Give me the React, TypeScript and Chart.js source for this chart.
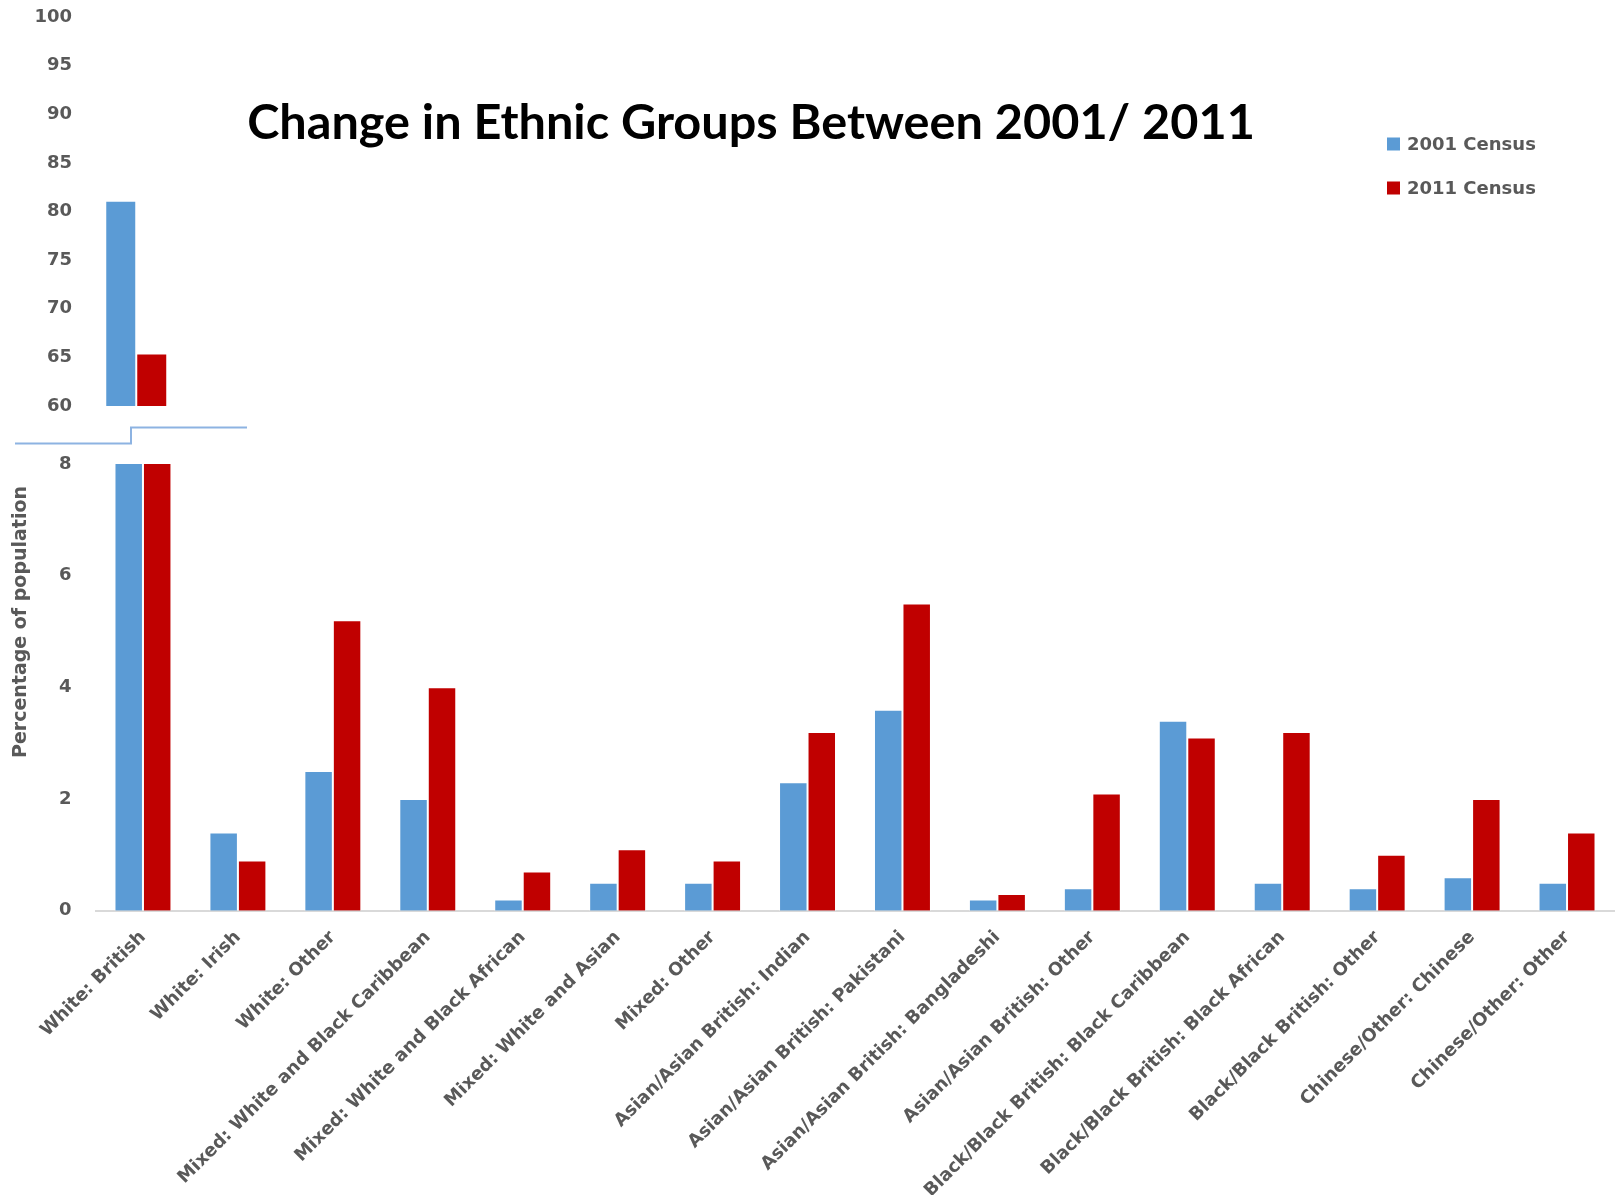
import React, { useEffect, useRef } from 'react';
import { Chart, registerables } from 'chart.js';
Chart.register(...registerables);

const categories = [
  'White: British',
  'White: Irish',
  'White: Other',
  'Mixed: White and Black Caribbean',
  'Mixed: White and Black African',
  'Mixed: White and Asian',
  'Mixed: Other',
  'Asian/Asian British: Indian',
  'Asian/Asian British: Pakistani',
  'Asian/Asian British: Bangladeshi',
  'Asian/Asian British: Other',
  'Black/Black British: Black Caribbean',
  'Black/Black British: Black African',
  'Black/Black British: Other',
  'Chinese/Other: Chinese',
  'Chinese/Other: Other',
];
const census2001 = [81.1, 1.4, 2.5, 2.0, 0.2, 0.5, 0.5, 2.3, 3.6, 0.2, 0.4, 3.4, 0.5, 0.4, 0.6, 0.5];
const census2011 = [65.4, 0.9, 5.2, 4.0, 0.7, 1.1, 0.9, 3.2, 5.5, 0.3, 2.1, 3.1, 3.2, 1.0, 2.0, 1.4];
const seriesLabels = ['2001 Census', '2011 Census'];
const seriesColors = ['#5B9BD5', '#C00000'];
const lowerAxis = { min: 0, max: 8, step: 2 };
const upperAxis = { min: 60, max: 100, step: 5 };
const chartTitle = 'Change in Ethnic Groups Between 2001/ 2011';
const yAxisTitle = 'Percentage of population';

const W = 1618;
const H = 1195;
const GRAY = '#595959';
const FONT = 'DejaVu Sans';

const tickFont = { family: FONT, size: 18, weight: 'bold' as const };

// upper panel geometry (page pixels)
const UP_TOP = 16.7;
const UP_BOTTOM = 405.7;
const UP_PAD = 50;
const UW = 260;
const UH = UP_PAD * 2 + (UP_BOTTOM - UP_TOP);

const decorPlugin = {
  id: 'decor',
  afterDraw(chart: any) {
    const ctx = chart.ctx;
    const area = chart.chartArea;
    ctx.save();
    // title
    ctx.fillStyle = '#000';
    ctx.textAlign = 'center';
    ctx.textBaseline = 'middle';
    ctx.font = `bold 100px Lato`;
    const w100 = ctx.measureText(chartTitle).width;
    const size = (100 * 1008) / w100;
    ctx.font = `bold ${size}px Lato`;
    ctx.fillText(chartTitle, 751, 123);

    // legend
    ctx.font = `bold 18px ${FONT}`;
    ctx.textAlign = 'left';
    chart.data.datasets.forEach((ds: any, i: number) => {
      const cy = 144 + i * 44;
      ctx.fillStyle = ds.backgroundColor;
      ctx.fillRect(1387, cy - 6.5, 13, 13);
      ctx.fillStyle = GRAY;
      ctx.fillText(ds.label, 1407, cy + 1);
    });

    // y axis title
    ctx.save();
    ctx.translate(21, 622);
    ctx.rotate(-Math.PI / 2);
    ctx.textAlign = 'center';
    ctx.font = `bold 19px ${FONT}`;
    ctx.fillStyle = GRAY;
    ctx.fillText(yAxisTitle, 0, 0);
    ctx.restore();

    // axis break marker
    const mid = area.top - 28.5;
    const bx = area.left + 35.5;
    ctx.strokeStyle = '#8DB3E2';
    ctx.lineWidth = 2;
    ctx.beginPath();
    ctx.moveTo(15, mid + 8);
    ctx.lineTo(bx, mid + 8);
    ctx.lineTo(bx, mid - 8);
    ctx.lineTo(247, mid - 8);
    ctx.stroke();
    ctx.restore();
  },
};

export default function App() {
  const lowerRef = useRef<HTMLCanvasElement>(null);
  const upperRef = useRef<HTMLCanvasElement>(null);

  useEffect(() => {
    document.body.style.margin = '0';
    const lower = new Chart(lowerRef.current!, {
      type: 'bar',
      data: {
        labels: categories,
        datasets: [census2001, census2011].map((d, i) => ({
          label: seriesLabels[i],
          data: d,
          backgroundColor: seriesColors[i],
          borderColor: 'rgba(255,255,255,0.7)',
          borderWidth: 1,
          categoryPercentage: 0.6,
          barPercentage: 1,
          clip: 0,
        })),
      },
      options: {
        animation: false,
        responsive: false,
        devicePixelRatio: 1,
        layout: { padding: { top: 464, right: 3.5, left: 0, bottom: 0 } },
        plugins: { legend: { display: false }, title: { display: false }, tooltip: { enabled: false } },
        scales: {
          x: {
            grid: { display: false, drawTicks: false },
            border: { display: true, color: '#D9D9D9', width: 2 },
            ticks: {
              autoSkip: false,
              maxRotation: 45,
              minRotation: 45,
              padding: 16,
              color: GRAY,
              font: tickFont,
            },
            afterFit: (s: any) => {
              s.height = H - 910.7;
            },
          },
          y: {
            min: lowerAxis.min,
            max: lowerAxis.max,
            grid: { display: false, drawTicks: false },
            border: { display: false },
            ticks: { stepSize: lowerAxis.step, padding: 24, color: GRAY, font: tickFont },
            afterFit: (s: any) => {
              s.width = 95.5;
            },
          },
        },
      },
      plugins: [decorPlugin],
    } as any);

    const upper = new Chart(upperRef.current!, {
      type: 'bar',
      data: {
        labels: [categories[0]],
        datasets: [census2001, census2011].map((d, i) => ({
          label: seriesLabels[i],
          data: [d[0]],
          backgroundColor: seriesColors[i],
          borderColor: 'rgba(255,255,255,0.7)',
          borderWidth: 1,
          categoryPercentage: 0.77,
          barPercentage: 1,
        })),
      },
      options: {
        animation: false,
        responsive: false,
        devicePixelRatio: 1,
        layout: { padding: { top: UP_PAD, bottom: UP_PAD, left: 0, right: UW - 176.5 } },
        plugins: { legend: { display: false }, title: { display: false }, tooltip: { enabled: false } },
        scales: {
          x: { display: false },
          y: {
            min: upperAxis.min,
            max: upperAxis.max,
            grid: { display: false, drawTicks: false },
            border: { display: false },
            ticks: { stepSize: upperAxis.step, padding: 24, color: GRAY, font: tickFont },
            afterFit: (s: any) => {
              s.width = 96;
            },
          },
        },
      },
    } as any);

    return () => {
      lower.destroy();
      upper.destroy();
    };
  }, []);

  return (
    <div style={{ position: 'relative', width: W, height: H, background: '#fff', overflow: 'hidden' }}>
      <canvas ref={lowerRef} width={W} height={H} style={{ position: 'absolute', left: 0, top: 0, display: 'block' }} />
      <canvas
        ref={upperRef}
        width={UW}
        height={UH}
        style={{ position: 'absolute', left: 0, top: UP_TOP - UP_PAD, display: 'block' }}
      />
    </div>
  );
}
